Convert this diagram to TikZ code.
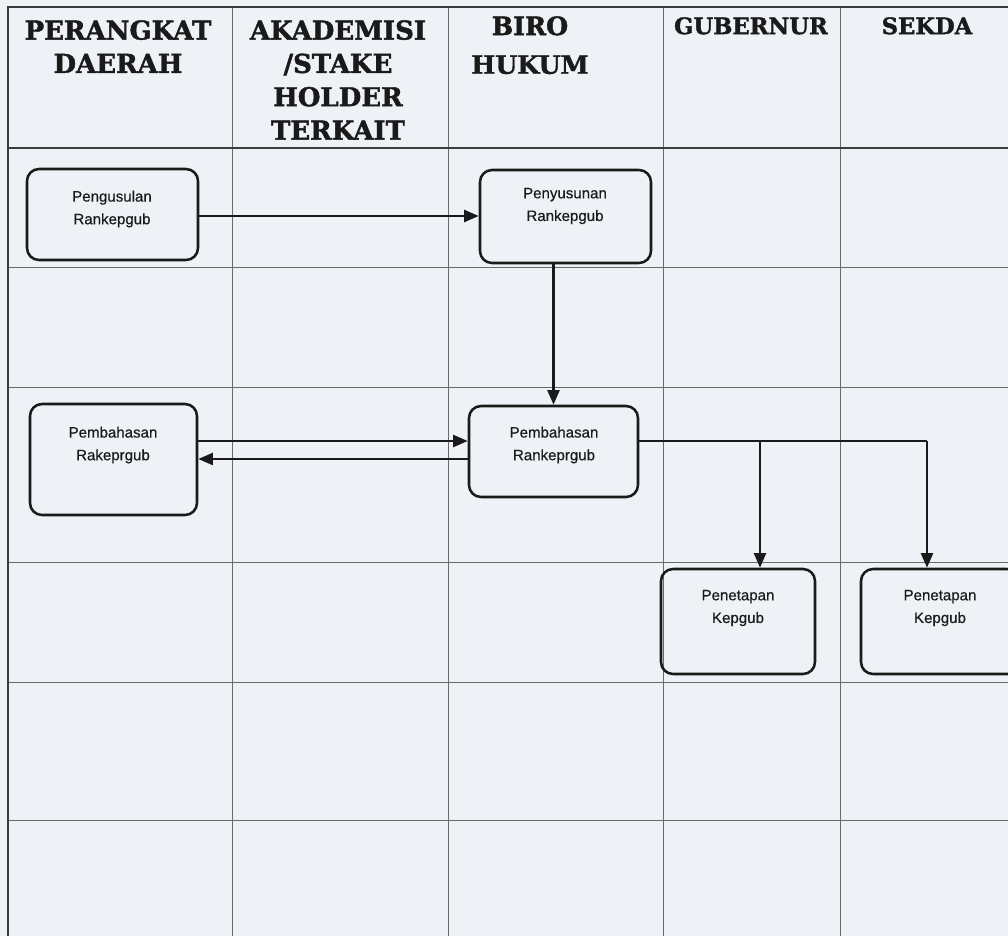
\documentclass[tikz,border=0pt]{standalone}
\usepackage{fontspec}
\setmainfont{Liberation Sans}
\newfontfamily\headfont{DejaVu Serif}[BoldFeatures={FakeBold=1.6}]
\newfontfamily\boxfont{Liberation Sans}[UprightFeatures={FakeBold=0.5}]
\usetikzlibrary{arrows.meta}
\definecolor{paper}{HTML}{EEF1F5}
\definecolor{gridc}{HTML}{6A6A6A}
\definecolor{ink}{HTML}{1A1A1A}
\tikzset{
  gridline/.style={draw=gridc, line width=0.6pt},
  frameline/.style={draw=ink!85, line width=1pt},
  head/.style={font=\headfont\bfseries\fontsize{19.5}{25}\selectfont, align=center, text=ink, inner sep=0pt, anchor=north},
  headsmall/.style={font=\headfont\bfseries\fontsize{17}{22}\selectfont, align=center, text=ink, inner sep=0pt, anchor=north},
  procbox/.style={draw=ink, line width=1.9pt, rounded corners=9pt, inner sep=0pt},
  proctext/.style={font=\boxfont\fontsize{11.3}{17}\selectfont, align=center, text=ink, inner sep=0pt},
  flow/.style={draw=ink, line width=1.8pt, -{Triangle[length=11pt,width=9pt]}},
  flowline/.style={draw=ink, line width=1.8pt}
}
\begin{document}
\begin{tikzpicture}[x=0.75pt, y=-0.75pt]
% page and background
\fill[paper] (0,0) rectangle (1008,936);
\useasboundingbox (0,0) rectangle (1008,936);

% swimlane grid
\foreach \gx in {232,448,663,840} \draw[gridline] (\gx,7) -- (\gx,936);
\foreach \gy in {267,387,562,682,820} \draw[gridline] (8,\gy) -- (1008,\gy);
\draw[frameline] (8,936) -- (8,7) -- (1008,7);
\draw[frameline] (8,148) -- (1008,148);

% lane headings
\node[head] (hPD) at (118,20) {PERANGKAT\\DAERAH};
\node[head] (hAK) at (338,20) {AKADEMISI\\/STAKE\\HOLDER\\TERKAIT};
\node[head, font=\headfont\bfseries\fontsize{19}{29}\selectfont] (hBH) at (530,16) {BIRO\\HUKUM};
\node[headsmall] (hGB) at (751,17) {GUBERNUR};
\node[headsmall] (hSK) at (927,17) {SEKDA};

% process boxes
\node[procbox, minimum width=171*0.75pt, minimum height=91*0.75pt] (p1) at (112.5,214.5) {};
\node[procbox, minimum width=171*0.75pt, minimum height=93*0.75pt] (p2) at (565.5,216.5) {};
\node[procbox, minimum width=169*0.75pt, minimum height=91*0.75pt] (p3) at (553.5,451.5) {};
\node[procbox, minimum width=167*0.75pt, minimum height=111*0.75pt] (p4) at (113.5,459.5) {};
\node[procbox, minimum width=154*0.75pt, minimum height=105*0.75pt] (p5) at (738,621.5) {};
\node[procbox, minimum width=158*0.75pt, minimum height=105*0.75pt] (p6) at (940,621.5) {};

% box captions
\node[proctext] (t1) at (112,209) {Pengusulan\\Rankepgub};
\node[proctext] (t2) at (565,206) {Penyusunan\\Rankepgub};
\node[proctext] (t3) at (554,445) {Pembahasan\\Rankeprgub};
\node[proctext] (t4) at (113,445) {Pembahasan\\Rakeprgub};
\node[proctext] (t5) at (738,608) {Penetapan\\Kepgub};
\node[proctext] (t6) at (940,608) {Penetapan\\Kepgub};

% connector levels
\coordinate (yA) at (0,216);
\coordinate (yB) at (0,441);
\coordinate (yC) at (0,459);
\coordinate (j1) at (760,441);
\coordinate (j2) at (927,441);

% flows
\draw[flow] (p1.east |- yA) -- (p2.west |- yA);
\draw[flow] (p2.south -| p3.north) -- (p3.north);
\draw[flow] (p4.east |- yB) -- (p3.west |- yB);
\draw[flow] (p3.west |- yC) -- (p4.east |- yC);
\draw[flowline] (p3.east |- yB) -- (j2);
\draw[flow] (j2) -- (j2 |- p6.north);
\draw[flow] (j1) -- (j1 |- p5.north);
\end{tikzpicture}
\end{document}
